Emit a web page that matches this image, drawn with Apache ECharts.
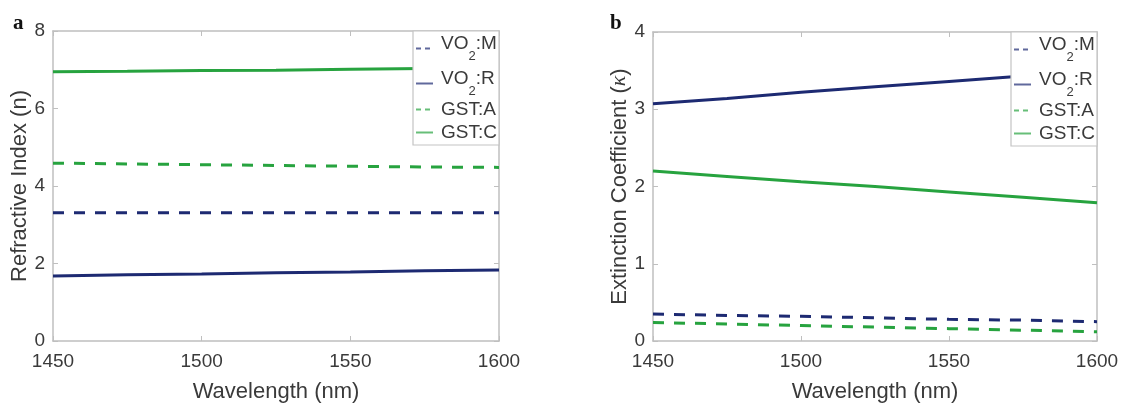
<!DOCTYPE html>
<html>
<head>
<meta charset="utf-8">
<script src="https://cdn.jsdelivr.net/npm/echarts@6/dist/echarts.min.js"></script>
<style>
  html, body { margin: 0; padding: 0; background: #ffffff; }
  #chart { width: 1128px; height: 408px; }
</style>
</head>
<body>
<div id="chart"></div>
<script>
// Wavelength samples (nm) and axis ticks
const wavelength = [1450, 1475, 1500, 1525, 1550, 1575, 1600];
const xTicks = [1450, 1500, 1550, 1600];
const nTicks = [0, 2, 4, 6, 8];
const kTicks = [0, 1, 2, 3, 4];

// Refractive index n
const nVO2M = [3.31, 3.31, 3.31, 3.31, 3.31, 3.31, 3.31];
const nVO2R = [1.68, 1.71, 1.73, 1.76, 1.78, 1.81, 1.83];
const nGSTA = [4.59, 4.57, 4.55, 4.53, 4.51, 4.49, 4.48];
const nGSTC = [6.95, 6.96, 6.98, 6.99, 7.01, 7.03, 7.05];

// Extinction coefficient kappa
const kVO2M = [0.35, 0.33, 0.32, 0.30, 0.28, 0.27, 0.25];
const kVO2R = [3.07, 3.14, 3.22, 3.29, 3.36, 3.43, 3.50];
const kGSTA = [0.24, 0.22, 0.20, 0.18, 0.16, 0.14, 0.12];
const kGSTC = [2.20, 2.13, 2.06, 2.00, 1.93, 1.86, 1.79];

const NAVY = '#1d2a72';
const GREEN = '#27a33f';
const AXIS = '#bfbfbf';
const TEXT = '#3a3a3a';
const FONT = 'Liberation Sans, Arial, sans-serif';
const DASH = [11, 10];

const styleOf = {
  'VO2:M': { color: NAVY, dashed: true },
  'VO2:R': { color: NAVY, dashed: false },
  'GST:A': { color: GREEN, dashed: true },
  'GST:C': { color: GREEN, dashed: false }
};

const grids = [
  { left: 53, right: 629, top: 31, bottom: 62 },
  { left: 653, right: 31, top: 32, bottom: 58 }
];

function pairs(ys) { return wavelength.map((w, i) => [w, ys[i]]); }

function lineSeries(name, ys, panel) {
  const s = styleOf[name];
  return {
    name: name,
    type: 'line',
    xAxisIndex: panel * 2,
    yAxisIndex: panel * 2,
    data: pairs(ys),
    symbol: 'none',
    showSymbol: false,
    lineStyle: { color: s.color, width: 3, type: s.dashed ? DASH : 'solid' },
    itemStyle: { color: s.color },
    z: 2
  };
}

function xAxes(panel) {
  const base = {
    type: 'value',
    gridIndex: panel,
    min: xTicks[0],
    max: xTicks[xTicks.length - 1],
    interval: xTicks[1] - xTicks[0],
    splitLine: { show: false },
    axisLine: { show: true, onZero: false, lineStyle: { color: AXIS, width: 1.5 } },
    axisTick: { show: true, inside: true, length: 5, lineStyle: { color: AXIS } }
  };
  return [
    Object.assign({}, base, {
      position: 'bottom',
      name: 'Wavelength (nm)',
      nameLocation: 'middle',
      nameGap: 40,
      nameTextStyle: { fontFamily: FONT, fontSize: 22, color: TEXT },
      axisLabel: {
        show: true, margin: 11, fontFamily: FONT, fontSize: 19, color: TEXT,
        formatter: v => String(v)
      }
    }),
    Object.assign({}, base, { position: 'top', axisLabel: { show: false } })
  ];
}

function yAxes(panel, ticks, name, gap, rich) {
  const base = {
    type: 'value',
    gridIndex: panel,
    min: ticks[0],
    max: ticks[ticks.length - 1],
    interval: ticks[1] - ticks[0],
    splitLine: { show: false },
    axisLine: { show: true, onZero: false, lineStyle: { color: AXIS, width: 1.5 } },
    axisTick: { show: true, inside: true, length: 5, lineStyle: { color: AXIS } }
  };
  return [
    Object.assign({}, base, {
      position: 'left',
      name: name,
      nameLocation: 'middle',
      nameGap: gap,
      nameTextStyle: { fontFamily: FONT, fontSize: 22, color: TEXT, rich: rich },
      axisLabel: { show: true, margin: 8, fontFamily: FONT, fontSize: 19, color: TEXT }
    }),
    Object.assign({}, base, { position: 'right', axisLabel: { show: false } })
  ];
}

// One legend per entry so each row sits at its own height
const legendRows = [
  { name: 'VO2:M', dy: 3 },
  { name: 'VO2:R', dy: 38 },
  { name: 'GST:A', dy: 69 },
  { name: 'GST:C', dy: 92 }
];

function legendFor(panel) {
  const g = grids[panel];
  const boxRight = 1128 - g.right;
  const boxLeft = boxRight - 86;
  return legendRows.map(row => {
    const s = styleOf[row.name];
    return {
      data: [row.name],
      left: boxLeft + 2,
      top: g.top + row.dy,
      orient: 'vertical',
      padding: 0,
      itemWidth: 17,
      itemHeight: 12,
      selectedMode: false,
      itemStyle: { opacity: 0, borderWidth: 0 },
      lineStyle: { width: 2, type: s.dashed ? [5, 4] : 'solid', color: s.color, opacity: 0.7 },
      formatter: function (n) {
        if (n.indexOf('VO2') === 0) return '{m|VO}{s|2}{m|' + n.slice(3) + '}';
        return '{p|' + n + '}';
      },
      textStyle: {
        fontFamily: FONT, fontSize: 19, color: TEXT, padding: [0, 0, 0, 3],
        rich: {
          m: { fontFamily: FONT, fontSize: 19, color: TEXT, lineHeight: 29, verticalAlign: 'top' },
          s: { fontFamily: FONT, fontSize: 13, color: TEXT, lineHeight: 29, verticalAlign: 'bottom' },
          p: { fontFamily: FONT, fontSize: 19, color: TEXT, lineHeight: 20 }
        }
      },
      z: 5
    };
  });
}

function legendBox(panel) {
  const g = grids[panel];
  const boxRight = 1128 - g.right;
  return {
    type: 'rect',
    z: 4,
    shape: { x: boxRight - 86, y: g.top, width: 86, height: 114 },
    style: { fill: '#ffffff', stroke: '#c4c4c4', lineWidth: 1.2 }
  };
}

const option = {
  animation: false,
  backgroundColor: '#ffffff',
  title: [
    { text: 'a', left: 8, top: 8, textStyle: { fontFamily: 'Liberation Serif, serif', fontWeight: 'bold', fontSize: 21, color: '#111' } },
    { text: 'b', left: 605, top: 8, textStyle: { fontFamily: 'Liberation Serif, serif', fontWeight: 'bold', fontSize: 21, color: '#111' } }
  ],
  grid: grids.map(g => Object.assign({ containLabel: false }, g)),
  xAxis: [].concat(xAxes(0), xAxes(1)),
  yAxis: [].concat(
    yAxes(0, nTicks, 'Refractive Index (n)', 20),
    yAxes(1, kTicks, '{t|Extinction Coefficient (}{k|κ}{t|)}', 21, {
      t: { fontFamily: FONT, fontSize: 22, color: TEXT },
      k: { fontFamily: 'Liberation Serif, serif', fontStyle: 'italic', fontSize: 22, color: TEXT }
    })
  ),
  legend: [].concat(legendFor(0), legendFor(1)),
  graphic: [legendBox(0), legendBox(1)],
  series: [
    lineSeries('VO2:M', nVO2M, 0),
    lineSeries('VO2:R', nVO2R, 0),
    lineSeries('GST:A', nGSTA, 0),
    lineSeries('GST:C', nGSTC, 0),
    lineSeries('VO2:M', kVO2M, 1),
    lineSeries('VO2:R', kVO2R, 1),
    lineSeries('GST:A', kGSTA, 1),
    lineSeries('GST:C', kGSTC, 1)
  ]
};

const chart = echarts.init(document.getElementById('chart'), null, { renderer: 'canvas' });
chart.setOption(option);
</script>
</body>
</html>
